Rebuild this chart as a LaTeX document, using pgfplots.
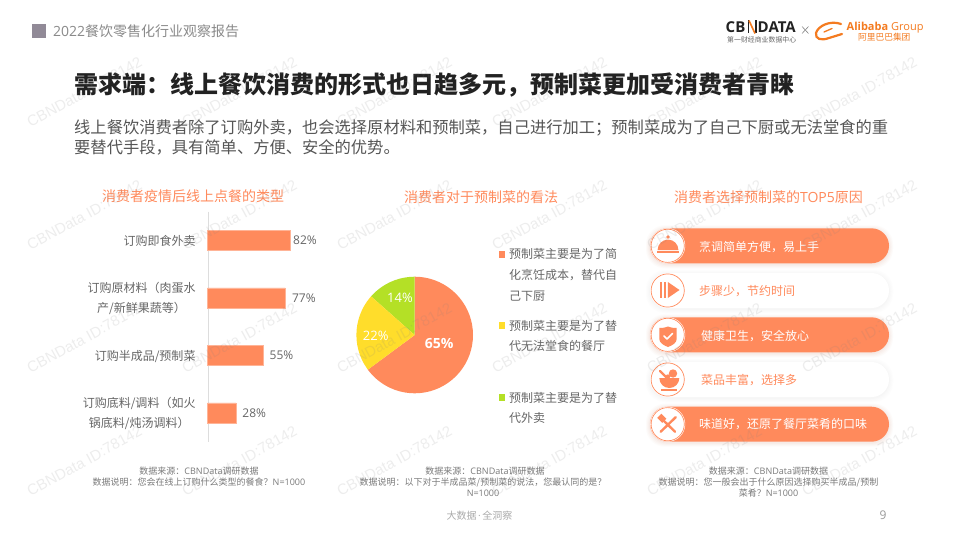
\documentclass[border=0pt]{standalone}
\usepackage{fontspec}
\usepackage{pgfplots}
\usepackage{pgfplotstable}
\pgfplotsset{compat=1.18}
\usepgfplotslibrary{polar}
\setmainfont{Noto Sans CJK SC}
\newfontfamily\lat{Open Sans}
\newfontfamily\wm{Liberation Sans}
\newcommand\fs[1]{\fontsize{#1}{#1}\selectfont}
\definecolor{cor}{HTML}{FF8A5C}
\definecolor{cye}{HTML}{FFDD2B}
\definecolor{cgr}{HTML}{B4E026}
\definecolor{ctxt}{HTML}{666666}
\definecolor{cfoot}{HTML}{7A7A7A}
\definecolor{chead}{HTML}{8A8A8A}
\definecolor{csq}{HTML}{918A97}
\definecolor{cdark}{HTML}{222222}
\definecolor{cbody}{HTML}{555555}
\definecolor{cali}{HTML}{F47B20}
\definecolor{cline}{HTML}{DDDDDD}
\definecolor{cedge}{HTML}{FFB497}
\definecolor{cpage}{HTML}{999999}
\definecolor{cslog}{HTML}{AAAAAA}

\pgfplotstableread{
p v dx
0 82 2.7
1 77 6.6
2 55 6.3
3 28 6.3
}\bardata

\begin{document}
\begin{tikzpicture}[x=1pt,y=-1pt,
  txt/.style={inner sep=0pt,anchor=mid west},
  ctr/.style={inner sep=0pt,anchor=mid},
  % S=size pulls the node down so that the glyphs, not the 10pt mid line, sit on the coordinate
  S/.style={yshift={-(0.38*#1-2.7)*1pt}}]
\useasboundingbox (0,0) rectangle (960,540);
\fill[white] (0,0) rectangle (960,540);

% header
\fill[csq] (32,24) rectangle (46,38);
\node[txt,S=14,text=chead] at (53,31) {\fs{14}{\lat 2022}餐饮零售化行业观察报告};

% logo
\node[txt,S=15,text=cdark] at (725.5,27) {\lat\bfseries\fs{15}CB};
\draw[cdark,line width=1.6pt] (748.3,20.5) -- (748.3,33.5) (755.7,20.5) -- (755.7,33.5);
\draw[cali,line width=1.6pt] (749,20.5) -- (755,33.5);
\node[txt,S=15,text=cdark] at (757.5,27) {\lat\bfseries\fs{15}DATA};
\node[txt,S=6.9,text=ctxt] at (727,40) {\fs{6.9}第一财经商业数据中心};
\draw[chead,line width=.6pt] (802,26.5) -- (808.5,33.5) (808.5,26.5) -- (802,33.5);
\draw[cali,line width=2.2pt,line cap=round] (841,24) .. controls (830,20) and (818,26) .. (816,33) .. controls (815,39) and (821,41) .. (829,38) -- (842,34);
\draw[cali,line width=1.3pt,line cap=round] (824,32) -- (832,28.5);
\node[txt,S=11,text=cali] at (846.5,26.5) {\lat\bfseries\fs{11}Alibaba \mdseries Group};
\node[txt,S=8.7,text=cali] at (858,37) {\fs{8.7}阿里巴巴集团};

% title and intro
\node[txt,S=24,text=cdark] at (74,84) {\bfseries\fs{24}需求端：线上餐饮消费的形式也日趋多元，预制菜更加受消费者青睐};
\node[txt,S=16.28,text=cbody] at (74,127) {\fs{16.28}线上餐饮消费者除了订购外卖，也会选择原材料和预制菜，自己进行加工；预制菜成为了自己下厨或无法堂食的重};
\node[txt,S=16.28,text=cbody] at (74,147) {\fs{16.28}要替代手段，具有简单、方便、安全的优势。};

% panel titles
\node[ctr,S=14,text=cor] at (193,196) {\fs{14}消费者疫情后线上点餐的类型};
\node[ctr,S=14,text=cor] at (481,197) {\fs{14}消费者对于预制菜的看法};
\node[ctr,S=14,text=cor] at (768.5,197) {\fs{14}消费者选择预制菜的{\lat TOP5}原因};

% bars
\coordinate (barsw) at (207.7,441.5);
\begin{axis}[
  at={(barsw)}, anchor=south west,
  width=100.7pt, height=230pt, scale only axis,
  xmin=0, xmax=100,
  ymin=-0.5, ymax=3.5, y dir=reverse,
  xbar, bar width=20pt,
  hide x axis,
  axis y line*=left,
  axis line style={draw=cline,-},
  major tick length=0pt,
  ytick={0,1,2,3},
  yticklabels={{订购即食外卖},{订购原材料（肉蛋水\\产/新鲜果蔬等）},{订购半成品/预制菜},{订购底料/调料（如火\\锅底料/炖汤调料）}},
  yticklabel style={align=center,inner xsep=0pt,xshift=-12pt,yshift=-1pt,text=ctxt,font=\fontsize{12}{20}\selectfont},
  point meta=x,
  visualization depends on={\thisrow{dx} \as \dxv},
  nodes near coords={\lat\fs{12}\pgfmathprintnumber[assume math mode=true,precision=0]{\pgfplotspointmeta}\%},
  every node near coord/.append style={inner sep=0pt,text=ctxt,xshift=\dxv pt},
  clip=false,
]
\addplot[fill=cor,draw=cedge,line width=.5pt] table[x=v,y=p] {\bardata};
\end{axis}

% pie
\coordinate (piec) at (414.7,335);
\begin{polaraxis}[
  at={(piec)}, anchor=center,
  width=116.6pt, height=116.6pt, scale only axis,
  ymin=0, ymax=1, hide axis, clip=false,
]
\addplot[fill=cor,draw=none,no markers] coordinates {(0,0)(216.5,1)(220,1)(225,1)(230,1)(235,1)(240,1)(245,1)(250,1)(255,1)(260,1)(265,1)(270,1)(275,1)(280,1)(285,1)(290,1)(295,1)(300,1)(305,1)(310,1)(315,1)(320,1)(325,1)(330,1)(335,1)(340,1)(345,1)(350,1)(355,1)(0,1)(5,1)(10,1)(15,1)(20,1)(25,1)(30,1)(35,1)(40,1)(45,1)(50,1)(55,1)(60,1)(65,1)(70,1)(75,1)(80,1)(85,1)(90,1)(0,0)};
\addplot[fill=cgr,draw=none,no markers] coordinates {(0,0)(90,1)(95,1)(100,1)(105,1)(110,1)(115,1)(120,1)(125,1)(130,1)(135,1)(138.5,1)(0,0)};
\addplot[fill=cye,draw=none,no markers] coordinates {(0,0)(138.5,1)(140,1)(145,1)(150,1)(155,1)(160,1)(165,1)(170,1)(175,1)(180,1)(185,1)(190,1)(195,1)(200,1)(205,1)(210,1)(216.5,1)(0,0)};
\node[ctr,S=14,text=white] at (axis cs:-18,.44) {\lat\bfseries\fs{14}65\%};
\node[ctr,S=13,text=white] at (axis cs:181.5,.669) {\lat\fs{13}22\%};
\node[ctr,S=13,text=white] at (axis cs:111.7,.683) {\lat\fs{13}14\%};
\end{polaraxis}

% pie legend
\fill[cor] (498.7,250.7) rectangle +(6.6,7);
\fill[cye] (498.7,322.2) rectangle +(6.6,7);
\fill[cgr] (498.7,394.2) rectangle +(6.6,7);
\foreach \yy/\lab in {254/预制菜主要是为了简,275/化烹饪成本，替代自,296/己下厨,325.7/预制菜主要是为了替,346/代无法堂食的餐厅,397.7/预制菜主要是为了替,418.3/代外卖}
  \node[txt,S=12,text=ctxt] at (509,\yy) {\fs{12}\lab};

% reason pills
\foreach \ya/\fillc in {228.3/cor,273/white,317.3/cor,362/white,406.7/cor}{
  \foreach \e/\op in {4/.04,3/.05,2/.06,1/.08}{
    \fill[\fillc!60!gray!70!white,opacity=\op,rounded corners=19pt]
      (650-\e,\ya+1-\e) rectangle (889+\e,\ya+36+\e);
  }
  \fill[\fillc,rounded corners=17.5pt] (650,\ya) rectangle (889,\ya+35);
  \fill[white] (667.7,\ya+17.5) circle[radius=17.5pt];
  \draw[cor,line width=.7pt] (667.7,\ya+17.5) circle[radius=16.6pt];
}
\node[txt,S=12,text=white] at (699,246.7) {\fs{12}烹调简单方便，易上手};
\node[txt,S=12,text=cor] at (699,291) {\fs{12}步骤少，节约时间};
\node[txt,S=12,text=white] at (701,336) {\fs{12}健康卫生，安全放心};
\node[txt,S=12,text=cor] at (701,380) {\fs{12}菜品丰富，选择多};
\node[txt,S=12,text=white] at (699,424) {\fs{12}味道好，还原了餐厅菜肴的口味};

% icons
\fill[cor] (657.6,250) arc[start angle=180,end angle=0,radius=10.4pt] -- cycle;
\fill[cor] (657.3,251) rectangle (679.3,253);
\fill[cor] (668,237) circle[radius=1.8pt];
\fill[cor] (660,282) rectangle (662,298);
\fill[cor] (664,282) rectangle (666.3,298);
\fill[cor] (667.8,282) -- (679.5,290) -- (667.8,298) -- cycle;
\fill[cor] (659.3,328) .. controls (663,328) and (666,327.5) .. (668,326.5) .. controls (670,327.5) and (673,328) .. (676.7,328) -- (676.7,339) .. controls (676.7,343) and (672,345.5) .. (668,347) .. controls (664,345.5) and (659.3,343) .. (659.3,339) -- cycle;
\draw[white,line width=1.5pt,line cap=round,line join=round] (664,336) -- (667,339) -- (672.5,333.5);
\fill[cor] (659.3,378) arc[start angle=180,end angle=360,radius=10pt] -- cycle;
\fill[cor] (661,389) rectangle (677,390.5);
\fill[cor] (673,373.5) circle[radius=4.2pt];
\fill[cor] (668,376.5) circle[radius=2.2pt];
\draw[cor,line width=2.2pt,line cap=round] (660,371) -- (666,377);
\draw[cor,line width=2.4pt,line cap=round] (660.7,431.7) -- (675.7,417.2);
\draw[cor,line width=2.4pt,line cap=round] (664,421) -- (675,431.7);
\fill[cor,rotate around={45:(662.5,419)}] (659.5,414.5) rectangle (665.5,421.5);

% source notes
\foreach \cx/\yy/\lab in {199/471/{数据来源：{\lat CBNData}调研数据},199/482.5/{数据说明：您会在线上订购什么类型的餐食？{\lat N=1000}},
  485/471/{数据来源：{\lat CBNData}调研数据},483/482.5/{数据说明：以下对于半成品菜/预制菜的说法，您最认同的是？},483/493/{{\lat N=1000}},
  768.5/471/{数据来源：{\lat CBNData}调研数据},768.5/482.5/{数据说明：您一般会出于什么原因选择购买半成品/预制},768.5/493/{菜肴？{\lat N=1000}}}
  \node[ctr,S=9,text=cfoot] at (\cx,\yy) {\fs{9}\lab};

% footer
\node[ctr,S=10,text=cslog] at (479.5,516) {\fs{10}大数据\kern1.5pt{\lat·}\kern1.5pt全洞察};
\node[ctr,S=12,text=cpage] at (883,515) {\lat\fs{12}9};

% watermark
\foreach \wx in {28,183,338,493,648,803}
  \foreach \wy in {123,246,369,492}
    \node[anchor=west,inner sep=0pt,rotate=28.7,text=gray,opacity=.14] at (\wx,\wy) {\wm\fs{15}CBNData ID:78142};
\end{tikzpicture}
\end{document}
